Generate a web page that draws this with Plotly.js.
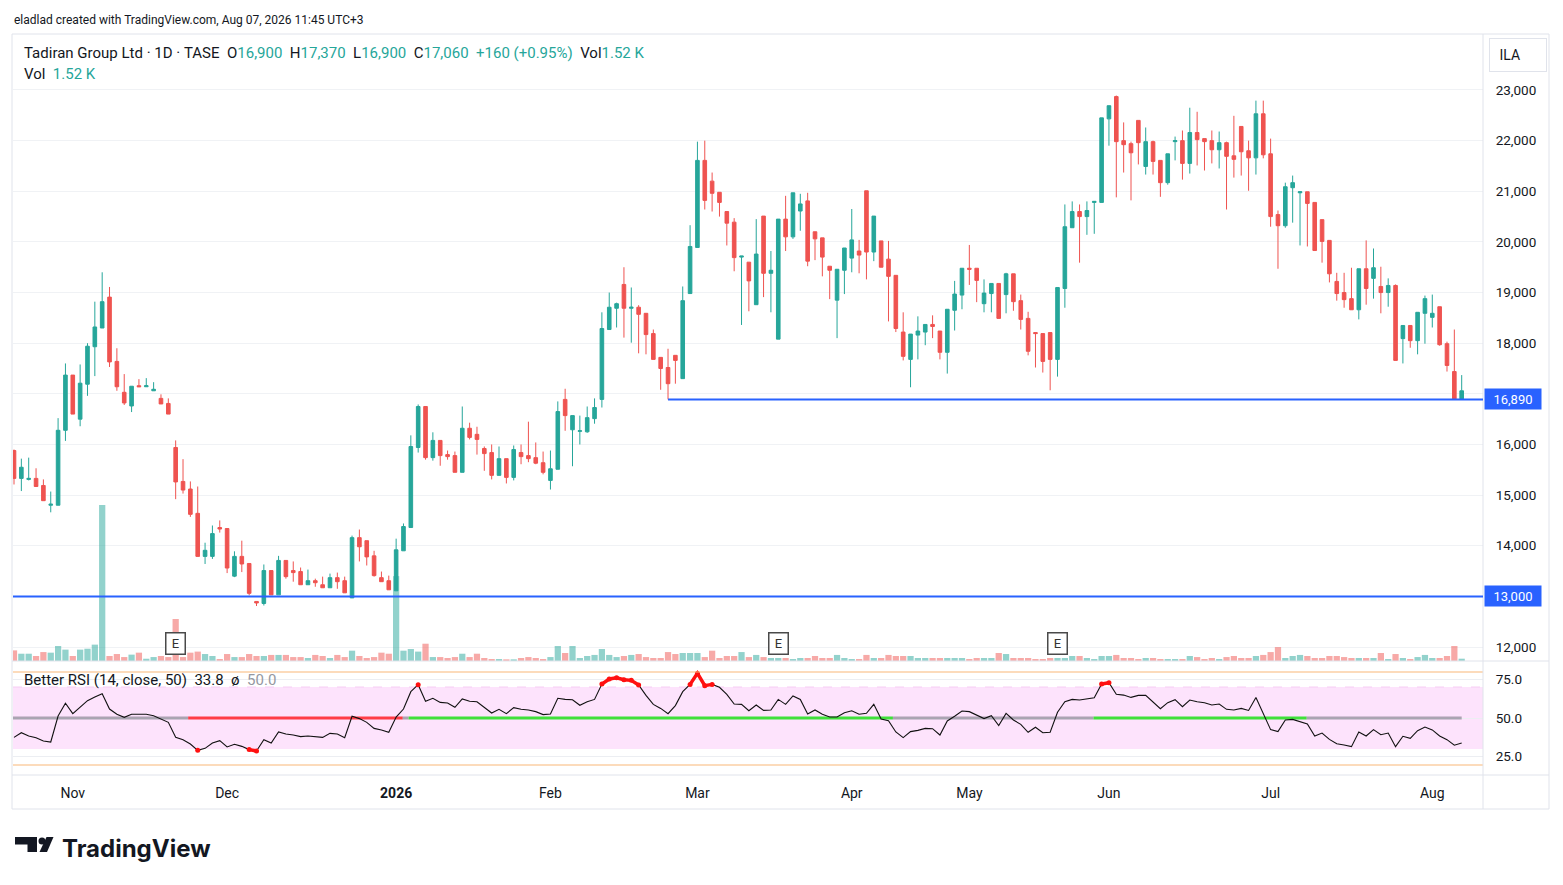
<!DOCTYPE html>
<html><head><meta charset="utf-8">
<script src="https://cdn.plot.ly/plotly-3.0.1.min.js"></script>
<style>html,body{margin:0;padding:0;background:#fff;}#chart{width:1563px;height:885px;}</style>
</head><body><div id="chart"></div>
<script>
// ---- DATA ----
const opens = [15880,15330,15310,15330,15190,14800,14800,16280,17370,16500,17190,17930,18300,18910,17640,17030,16760,17160,17140,17060,16910,16810,15940,15270,15120,14640,13790,13790,14360,14340,13400,13790,13650,12900,12860,13510,13030,13710,13510,13490,13230,13310,13230,13170,13370,13310,12970,14160,14100,13800,13370,13310,13110,13900,14360,15940,16750,15740,16080,15800,15780,15450,16320,16200,15920,15840,15390,15720,15350,15840,15780,15740,15640,15290,15510,16890,16290,16260,16250,16510,16890,18270,18690,19160,18690,18710,18590,18190,17720,17520,17760,17300,18980,19890,21610,21200,20980,20600,20390,19700,19600,18760,20510,19380,18080,20450,20100,20610,20810,20200,20080,19520,18850,19440,19680,19820,21010,19800,20020,19660,19340,18220,17680,18160,18220,18370,18240,17820,18650,18950,19480,19480,18780,18980,19180,18960,19370,18840,18490,18210,18190,18210,17680,19080,20280,20600,20500,20780,20780,22430,22870,22000,21940,22400,21490,21980,21610,21170,21980,22000,21550,22160,22040,22000,21820,21960,21700,22280,21800,21660,22530,21740,20540,20320,21070,20970,20990,20780,20440,20030,19220,19000,18880,18660,19470,19280,19120,19000,19140,18090,18350,18050,18590,18510,18720,17990,17440,16900];
const highs = [15900,15720,15740,15530,15310,15070,16520,17600,17370,17580,18000,18820,19400,19110,17900,17390,17150,17290,17310,17230,16990,16910,16080,15710,15270,15170,14060,14400,14500,14340,13890,14100,13650,12900,13630,13510,13800,13710,13690,13570,13530,13350,13390,13450,13470,13390,14200,14320,14100,13900,13490,13410,14140,14440,16180,16790,16750,16240,16080,15880,15860,16750,16430,16350,15960,16000,15960,15720,15980,16000,16450,16040,15860,15880,16850,17100,16570,16570,16750,16910,18610,19000,18800,19500,19100,18750,18590,18270,17720,17890,17760,19120,20330,21980,22000,21370,20980,20600,20470,19720,19600,20450,20510,19820,20450,20910,20970,20950,20970,20200,20080,19520,19460,19880,20650,20040,21010,20510,20020,20020,19340,18610,18180,18530,18370,18550,18240,18670,19230,19480,19940,19480,19260,19180,19180,19390,19370,18960,18620,18210,18190,18210,19100,20740,20800,20740,20800,20800,22450,22690,22890,22360,21980,22400,22260,22000,21610,21740,22080,22200,22650,22570,22040,22200,22180,21980,22490,22280,22000,22790,22790,22040,20620,21170,21310,20990,20990,20780,20440,20030,19390,19390,19490,19470,20030,19870,19510,19280,19160,18350,18350,18610,18940,18960,18720,18030,18270,17370];
const lows = [15210,15080,15290,15170,14890,14660,14800,16070,16600,16360,16960,17350,18300,17530,17060,16780,16640,17140,17140,17060,16800,16600,14920,15030,14570,13790,13640,13740,14260,13460,13380,13480,13020,12810,12820,13030,13030,13350,13290,13230,13230,13190,13170,13170,13150,13070,12970,13690,13610,13390,13290,13130,13110,13900,14360,15840,15700,15680,15580,15700,15450,15450,16100,15800,15480,15310,15390,15230,15290,15610,15650,15610,15410,15110,15510,16270,15570,16000,16230,16410,16730,18270,18310,18110,18010,17800,17780,17680,17080,16890,17200,17300,18980,19890,20640,20600,20500,19930,19420,18360,18630,18760,18910,18610,18080,19820,20060,20220,19520,19640,19320,18870,18100,18970,19400,19380,19260,19620,19500,18430,18220,17660,17130,17680,17960,18100,17680,17400,18250,18670,19150,18810,18610,18610,18490,18590,18640,18270,17760,17520,17420,17070,17340,18700,20280,19590,20140,20160,20780,21900,20880,21370,20820,21530,21330,21330,20890,21130,21610,21230,21350,21510,21410,21550,21450,20640,21270,21310,21010,21330,21650,20300,19470,20280,20380,19930,19910,19830,19590,19200,18840,18700,18660,18470,18760,18880,18590,18720,17660,17600,17910,17780,17990,18310,17950,17440,16900,16900];
const closes = [15330,15550,15330,15170,14890,14820,16280,17370,16600,17210,17940,18320,18820,17630,17140,16820,17150,17140,17160,17090,16800,16600,15260,15100,14620,13790,13910,14240,14330,13560,13790,13640,13060,12870,13510,13030,13710,13390,13470,13230,13310,13270,13170,13370,13290,13070,14160,13980,13780,13410,13290,13130,13920,14380,15960,16750,15740,16080,15780,15760,15450,16320,16140,16100,15820,15390,15720,15350,15900,15760,15720,15630,15450,15520,16650,16570,16570,16270,16530,16730,18290,18710,18780,18690,18710,18570,18170,17680,17500,17200,17660,18840,19910,21610,20820,20960,20780,20370,19690,19720,19230,19760,19380,19440,20450,20100,20970,20750,19620,20060,19700,19440,19460,19880,20040,19740,19800,20510,19500,19320,18290,17740,18180,18240,18370,18330,17820,18670,18970,19480,19460,19240,18990,19180,18490,19370,18820,18470,17840,18190,17640,17680,19100,20300,20600,20500,20620,20800,22450,22690,21980,21920,21760,21960,21980,21590,21170,21740,22000,21550,22160,22020,21980,21820,21960,21690,21630,21780,21660,22530,21720,20500,20320,21090,21170,20990,20760,19830,20010,19370,18980,18860,18660,19470,19080,19490,19000,19140,17660,18350,18050,18610,18880,18590,17970,17560,16900,17060];
// volume, thousands of shares
const volumes = [7.0,4.8,4.8,3.3,5.9,5.5,9.9,7.5,3.3,7.5,8.1,10.8,103,3.3,4.6,2.6,4.2,5.5,1.5,2.6,3.3,2.6,27.7,2.6,5.5,6.2,4.6,3.3,1.3,4.6,2.6,2.6,4.6,3.3,3.3,4.0,4.0,4.0,2.6,2.6,2.0,4.0,3.3,2.0,4.0,2.6,6.8,3.3,2.0,2.6,5.5,4.8,56,6.8,7.9,6.2,11.4,2.6,2.6,2.0,2.6,4.8,2.6,4.8,2.0,1.3,1.3,1.1,1.1,2.0,2.6,2.0,1.3,2.6,9.9,5.3,9.9,2.0,3.3,4.0,7.9,4.0,2.6,3.3,4.0,4.6,2.6,2.0,2.0,5.9,4.6,5.3,5.3,5.3,2.6,6.8,2.0,3.3,3.3,5.9,2.6,4.0,2.6,2.0,2.0,2.0,1.3,2.0,2.0,3.3,2.0,2.0,4.0,2.0,1.3,1.3,4.0,2.0,2.0,4.0,3.3,3.3,3.3,2.0,2.0,2.0,2.0,2.0,2.0,2.0,1.3,2.0,2.0,2.0,5.3,4.6,2.0,2.0,2.0,1.3,1.3,2.0,2.0,2.0,3.3,3.3,2.0,1.3,3.3,3.3,4.0,2.0,2.0,1.3,2.0,2.0,1.3,1.3,1.3,1.3,3.3,2.6,1.3,2.0,1.3,2.6,3.3,2.0,2.0,3.3,4.0,5.9,9.2,2.0,3.3,4.0,3.3,2.0,2.0,3.3,3.3,2.6,2.0,2.0,2.0,2.0,5.3,1.3,4.6,2.0,1.3,2.6,4.0,2.0,2.0,3.3,9.9,1.52];
// Better RSI (14, close, 50)
const rsi = [37.5,40.5,38.4,37.3,35.2,34.5,51.3,59.5,52.8,56.9,61.2,63.5,65.7,55.8,52.4,50.4,52.4,52.4,52.4,51.5,49.4,47.2,37.5,36.0,33.2,29.1,30.4,33.9,35.4,31.3,33.0,31.7,29.6,28.7,36.0,33.9,41.0,39.7,39.0,38.0,38.4,38.0,37.5,40.1,39.7,37.3,51.1,49.6,47.2,43.3,42.3,40.8,50.6,55.8,67.0,71.5,60.8,62.7,60.1,59.7,56.9,62.3,60.8,60.5,57.1,53.2,55.6,52.8,56.7,55.6,55.2,54.1,52.2,52.6,62.7,62.0,61.8,58.2,60.5,62.0,71.9,75.2,76.0,74.7,74.3,71.3,64.6,58.8,56.2,52.8,58.0,67.0,71.7,78.8,70.9,71.7,69.8,65.3,59.0,58.8,54.7,58.4,54.9,55.2,62.0,58.8,64.2,62.0,52.6,55.2,52.4,50.6,50.6,53.4,54.7,52.4,53.0,58.8,49.4,48.3,41.0,37.3,41.2,42.0,43.3,43.1,39.0,48.1,51.1,54.5,54.1,51.9,49.6,51.5,45.1,53.0,48.7,45.9,40.8,44.0,40.5,40.8,53.7,60.5,62.0,61.6,62.3,63.1,71.9,72.8,65.3,64.8,63.3,64.6,64.6,60.1,56.0,59.9,61.8,57.3,61.6,60.5,59.9,58.4,59.0,55.6,55.2,56.2,54.9,63.3,53.4,42.5,41.2,48.7,49.1,47.8,46.1,38.4,40.3,36.2,33.4,32.6,31.5,41.0,38.4,42.5,39.2,40.3,31.5,38.2,36.9,41.8,44.2,42.3,38.4,36.0,32.4,33.8];
const rsiMid = 50.0;
// state of the RSI trend line at 50 (candle positions where it changes)
const rsiTrendFrom  = [0.86, 24.7, 53.9, 54.7, 120.6, 147.9, 176.9];
const rsiTrendTo    = [24.7, 53.9, 54.7, 120.6, 147.9, 176.9, 198];
const rsiTrendState = ['neutral','bear','neutral','bull','neutral','bull','neutral'];
// time axis (candle number of the first session of each month)
const monthTickPos  = [9, 30, 53, 74, 94, 115, 131, 150, 172, 194];
const monthTickText = ['Nov','Dec','<b>2026</b>','Feb','Mar','Apr','May','Jun','Jul','Aug'];
const priceTicks = [12000,13000,14000,15000,16000,17000,18000,19000,20000,21000,22000,23000];
const rsiTicks = [25, 50, 75];
// horizontal levels drawn by the author
const levelPrice = [16890, 13000];
const levelStart = [90, null];
// earnings markers (candle numbers)
const earningsPos = [23, 105, 143];
const symbolName = 'Tadiran Group Ltd · 1D · TASE';
const currency = 'ILA';

// ---- LAYOUT HELPERS ----
const PL = 13, PR = 1483, PT = 35, PB = 775;
const px = x => (x - PL) / (PR - PL);
const py = y => (PB - y) / (PB - PT);
const D = py(661);
const xRange = [0.864, 200.9];
const UP = '#26a69a', DOWN = '#ef5350', TEAL_TXT = '#26a69a';
const n = closes.length;
const xs = closes.map((_, i) => i + 1);
const fmt = v => v.toLocaleString('en-US');
const nb = s => s.replace(/ /g, '\u00a0');

const traces = [];
traces.push({
  type: 'bar', x: xs, y: volumes, xaxis: 'x', yaxis: 'y', width: 0.85,
  marker: { color: closes.map((c, i) => c >= opens[i] ? 'rgba(38,166,154,0.5)' : 'rgba(239,83,80,0.5)'), line: { width: 0 } },
  hoverinfo: 'skip'
});
traces.push({
  type: 'candlestick', x: xs, open: opens, high: highs, low: lows, close: closes,
  xaxis: 'x', yaxis: 'y3', whiskerwidth: 0,
  increasing: { line: { color: UP, width: 1 }, fillcolor: UP },
  decreasing: { line: { color: DOWN, width: 1 }, fillcolor: DOWN },
  hoverinfo: 'skip'
});
const stateColor = { neutral: 'rgba(130,128,140,0.65)', bear: '#ff3d46', bull: '#3fe03a' };
for (let k = 0; k < rsiTrendState.length; k++) {
  traces.push({ type: 'scatter', mode: 'lines', x: [rsiTrendFrom[k], rsiTrendTo[k]], y: [rsiMid, rsiMid],
    xaxis: 'x2', yaxis: 'y2', line: { color: stateColor[rsiTrendState[k]], width: 3 }, hoverinfo: 'skip' });
}
traces.push({ type: 'scatter', mode: 'lines', x: xs, y: rsi, xaxis: 'x2', yaxis: 'y2',
  line: { color: '#111', width: 1.1 }, hoverinfo: 'skip' });
traces.push({ type: 'scatter', mode: 'lines+markers', x: xs, y: rsi.map(v => (v > 70 || v < 30) ? v : null),
  xaxis: 'x2', yaxis: 'y2', line: { color: '#ff1010', width: 3.5 }, marker: { color: '#ff1010', size: 5 },
  connectgaps: false, hoverinfo: 'skip' });

const shapes = [
  // pink zone 30-70
  { type: 'rect', xref: 'paper', yref: 'y2', x0: 0, x1: 1, y0: 30, y1: 70, fillcolor: '#fde3fc', line: { width: 0 }, layer: 'below' },
  { type: 'line', xref: 'paper', yref: 'y2', x0: 0, x1: 1, y0: 70, y1: 70, line: { color: '#f6cdf3', width: 1, dash: 'dash' }, layer: 'below' },
  // orange band levels 80 / 20
  { type: 'line', xref: 'paper', yref: 'paper', x0: 0, x1: 1, y0: py(672), y1: py(672), line: { color: '#f9b878', width: 1.2 } },
  { type: 'line', xref: 'paper', yref: 'paper', x0: 0, x1: 1, y0: py(765), y1: py(765), line: { color: '#f9b878', width: 1.2 } },
  // pane separators and frame
  { type: 'line', xref: 'paper', yref: 'paper', x0: px(12), x1: px(1549), y0: D, y1: D, line: { color: '#e0e3eb', width: 1 } },
  { type: 'line', xref: 'paper', yref: 'paper', x0: px(12), x1: px(1549), y0: 0, y1: 0, line: { color: '#e0e3eb', width: 1 } },
  { type: 'line', xref: 'paper', yref: 'paper', x0: 1, x1: 1, y0: py(809), y1: py(34), line: { color: '#e0e3eb', width: 1 } },
  { type: 'rect', xref: 'paper', yref: 'paper', x0: px(12), x1: px(1549), y0: py(809), y1: py(34), line: { color: '#e0e3eb', width: 1 } },
];
levelPrice.forEach((p, k) => {
  shapes.push({ type: 'line', xref: levelStart[k] === null ? 'paper' : 'x', yref: 'y3',
    x0: levelStart[k] === null ? 0 : levelStart[k], x1: levelStart[k] === null ? 1 : xRange[1], y0: p, y1: p,
    line: { color: '#2962ff', width: 2 } });
});
// TradingView logo mark
const logoPath = pts => 'M' + pts.map(p => px(p[0]) + ',' + py(p[1])).join(' L') + ' Z';
shapes.push({ type: 'path', xref: 'paper', yref: 'paper', path: logoPath([[15,837],[37,837],[37,852],[27.5,852],[27.5,844.5],[15,844.5]]), fillcolor: '#131722', line: { width: 0 } });
shapes.push({ type: 'circle', xref: 'paper', yref: 'paper', x0: px(38.5), x1: px(45.5), y0: py(844.5), y1: py(837.5), fillcolor: '#131722', line: { width: 0 } });
shapes.push({ type: 'path', xref: 'paper', yref: 'paper', path: logoPath([[46.5,837],[53.5,837],[47,852],[39.5,852]]), fillcolor: '#131722', line: { width: 0 } });

const L = n - 1;
const chg = closes[L] - closes[L - 1];
const chgPct = (chg / closes[L - 1] * 100).toFixed(2);
const tc = s => '<span style="color:' + TEAL_TXT + '">' + s + '</span>';
const headerText = nb(symbolName + '  O') + tc(fmt(opens[L])) + nb('  H') + tc(fmt(highs[L])) + nb('  L') + tc(fmt(lows[L])) +
  nb('  C') + tc(fmt(closes[L])) + nb('  ') + tc(nb((chg >= 0 ? '+' : '') + fmt(chg) + ' (' + (chg >= 0 ? '+' : '') + chgPct + '%)')) +
  nb('  Vol') + tc(nb(volumes[L].toFixed(2) + ' K'));

const annotations = [
  { xref: 'paper', yref: 'paper', x: px(12), y: py(20), xanchor: 'left', yanchor: 'middle', showarrow: false,
    text: 'eladlad created with TradingView.com, Aug 07, 2026 11:45 UTC+3', font: { size: 12, color: '#131722' } },
  { xref: 'paper', yref: 'paper', x: px(22), y: py(53), xanchor: 'left', yanchor: 'middle', showarrow: false,
    text: headerText, font: { size: 15, color: '#131722' } },
  { xref: 'paper', yref: 'paper', x: px(22), y: py(74), xanchor: 'left', yanchor: 'middle', showarrow: false,
    text: nb('Vol  ') + tc(nb(volumes[L].toFixed(2) + ' K')), font: { size: 15, color: '#131722' } },
  { xref: 'paper', yref: 'paper', x: px(22), y: py(680), xanchor: 'left', yanchor: 'middle', showarrow: false,
    text: nb('Better RSI (14, close, 50)  ' + rsi[L].toFixed(1) + '  ø  ') + '<span style="color:#9598a1">' + rsiMid.toFixed(1) + '</span>',
    font: { size: 15, color: '#131722' } },
  { xref: 'paper', yref: 'paper', x: px(1489), y: py(55), xanchor: 'left', yanchor: 'middle', showarrow: false,
    text: nb(' ' + currency), align: 'left', width: 44, height: 20, borderpad: 6, bordercolor: '#e0e3eb', borderwidth: 1,
    font: { size: 14, color: '#131722' } },
  { xref: 'paper', yref: 'paper', x: px(60), y: py(848), xanchor: 'left', yanchor: 'middle', showarrow: false,
    text: 'TradingView', font: { family: 'Inter, Roboto, sans-serif', size: 24, color: '#131722', weight: 700 } },
];
levelPrice.forEach(p => {
  annotations.push({ xref: 'paper', yref: 'y3', x: px(1484), y: p, xanchor: 'left', yanchor: 'middle', showarrow: false,
    text: fmt(p), bgcolor: '#2962ff', width: 52, height: 16, borderpad: 2, font: { size: 13, color: '#ffffff' } });
});
earningsPos.forEach(e => {
  annotations.push({ xref: 'x', yref: 'paper', x: e, y: py(643), xanchor: 'center', yanchor: 'middle', showarrow: false,
    text: 'E', bgcolor: '#ffffff', bordercolor: '#4a4a4a', borderwidth: 1.5, borderpad: 3, width: 12, height: 14,
    font: { size: 13, color: '#333' } });
});

// price scale labels hidden where an author's level label covers them
const priceTickText = priceTicks.map(v => levelPrice.some(p => Math.abs(p - v) < 300) ? '' : fmt(v));

const layout = {
  width: 1563, height: 885,
  margin: { l: PL, r: 1563 - PR, t: PT, b: 885 - PB, pad: 0 },
  paper_bgcolor: '#ffffff', plot_bgcolor: 'rgba(0,0,0,0)',
  showlegend: false, hovermode: false, dragmode: false,
  font: { family: 'Roboto, sans-serif', color: '#131722', size: 13 },
  xaxis: { domain: [0, 1], range: xRange, anchor: 'y', showticklabels: false, showgrid: false, zeroline: false,
    showline: false, rangeslider: { visible: false }, fixedrange: true },
  xaxis2: { domain: [0, 1], range: xRange, anchor: 'y2', matches: 'x', tickmode: 'array', tickvals: monthTickPos,
    ticktext: monthTickText, showgrid: false, zeroline: false, showline: false, ticks: 'outside', ticklen: 5,
    tickcolor: 'rgba(0,0,0,0)', tickfont: { size: 14, color: '#131722' }, fixedrange: true },
  yaxis: { domain: [D, 1], range: [0, 413], visible: false, fixedrange: true },
  yaxis3: { overlaying: 'y', anchor: 'x', side: 'right', range: [11724, 24086], tickmode: 'array', tickvals: priceTicks,
    ticktext: priceTickText, showgrid: true, gridcolor: '#f0f2f5', gridwidth: 1, zeroline: false, showline: false,
    ticks: 'outside', ticklen: 9, tickcolor: 'rgba(0,0,0,0)', tickfont: { size: 13.5, color: '#131722' }, fixedrange: true },
  yaxis2: { domain: [0, D], anchor: 'x2', side: 'right', range: [13.2, 86.8], tickmode: 'array', tickvals: rsiTicks,
    ticktext: rsiTicks.map(v => v.toFixed(1)), showgrid: true, gridcolor: '#eceef2', zeroline: false, showline: false,
    ticks: 'outside', ticklen: 9, tickcolor: 'rgba(0,0,0,0)', tickfont: { size: 13.5, color: '#131722' }, fixedrange: true },
  shapes: shapes,
  annotations: annotations
};
Plotly.newPlot('chart', traces, layout, { staticPlot: true, displayModeBar: false });
</script>
</body></html>
